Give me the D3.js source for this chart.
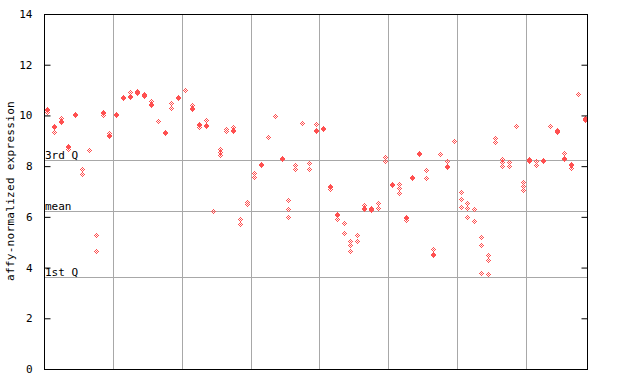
<!DOCTYPE html>
<html><head><meta charset="utf-8">
<script src="https://d3js.org/d3.v7.min.js"></script>
<style>body{margin:0;background:#fff}svg{display:block}text{font-family:"DejaVu Sans Mono",monospace;fill:#000}</style>
</head><body><svg id="c" width="640" height="384"></svg>
<script>
// values per sample position (replicates)
const sampleValues = [
 [10.25,10.21,10.13],[9.6,9.56,9.35],[9.88,9.79,9.75],[8.81,8.77,8.66],[10.05,10.01],
 [7.87,7.69],[8.62],[5.27,4.64],[10.15,10.11,10.0],[9.32,9.23,9.19],
 [10.05,10.01],[10.73,10.69],[10.91,10.76,10.72],[10.97,10.93,10.88],[10.85,10.81,10.76],
 [10.56,10.46,10.42],[9.77],[9.34,9.30],[10.48,10.28],[10.74,10.70],
 [10.99],[10.4,10.28,10.24],[9.65,9.61,9.53],[9.8,9.62,9.58],[6.24],
 [8.69,8.57,8.44],[9.48,9.37],[9.55,9.44,9.40],[5.9,5.72],[6.6,6.5],
 [7.72,7.56],[8.10,8.06],[9.14],[9.98],[8.31,8.27],
 [6.66,6.3,6.0],[8.06,7.9],[9.69],[8.11,7.9],[9.66,9.44,9.40],
 [9.51,9.47],[7.22,7.18,7.08],[6.10,6.06,5.9],[5.77,5.35],[5.06,4.88,4.64],
 [5.27,5.06],[6.47,6.36,6.32],[6.36,6.32,6.28],[6.56,6.34],[8.35,8.2],
 [7.28,7.24],[7.3,7.12,6.95],[6.0,5.96,5.88],[7.56,7.52],[8.52,8.48],
 [7.83,7.52],[4.72,4.54,4.5],[8.46],[8.19,8.02,7.98],[8.98],
 [7.0,6.69,6.38],[6.53,6.34,6.0],[6.3,5.82],[5.19,4.88,3.77],[4.48,4.28,3.73],
 [9.1,8.96],[8.3,8.15,8.0],[8.15,8.0],[9.6],[7.36,7.22,7.05],
 [8.29,8.25,8.2],[8.19,8.03],[8.26,8.22],[9.58],[9.44,9.40,9.33],
 [8.5,8.32,8.28],[8.10,8.06,7.91],[10.83],[9.88,9.84,9.8]
];
const yTicks = [0,2,4,6,8,10,12,14];
const refValues = [8.24, 6.23, 3.62];
const refLabels = ["3rd Q", "mean", "1st Q"];
const groupSize = 10;
const yTitle = "affy-normalized expression";

const svg = d3.select("#c");
const L = 44, R = 588, T = 14, B = 369;
const n = sampleValues.length;
const x = d3.scaleLinear().domain([0, n]).range([L, R]);
const y = d3.scaleLinear().domain([0, 14]).range([B, T]);
const red = "#ff5050";

const defs = svg.append("defs");
const pat = defs.append("pattern").attr("id","chk").attr("patternUnits","userSpaceOnUse")
  .attr("x",-0.5).attr("y",-0.5).attr("width",2).attr("height",2);
pat.append("rect").attr("x",0).attr("y",0).attr("width",1).attr("height",1).attr("fill",red);
pat.append("rect").attr("x",1).attr("y",1).attr("width",1).attr("height",1).attr("fill",red);

// vertical group grid lines
const gridX = d3.range(groupSize, n, groupSize);
svg.append("g").selectAll("line").data(gridX).join("line")
  .attr("x1", d => Math.round(x(d)) + 0.5).attr("x2", d => Math.round(x(d)) + 0.5)
  .attr("y1", T).attr("y2", B).attr("stroke", "#a8a8a8").attr("stroke-width", 1);

// reference lines
svg.append("g").selectAll("line").data(refValues).join("line")
  .attr("x1", L).attr("x2", R)
  .attr("y1", d => Math.round(y(d)) + 0.5).attr("y2", d => Math.round(y(d)) + 0.5)
  .attr("stroke", "#a8a8a8").attr("stroke-width", 1);
svg.append("g").selectAll("text").data(refValues).join("text")
  .attr("x", L + 1).attr("y", d => Math.round(y(d)) - 1)
  .attr("font-size", 11).text((d,i) => refLabels[i]);

// points
const pts = [];
sampleValues.forEach((vals, i) => vals.forEach(v => pts.push({i, v})));
svg.append("g").selectAll("path").data(pts).join("path")
  .attr("transform", d => `translate(${Math.round(x(d.i + 0.5)) + 0.5},${Math.round(y(d.v)) + 0.5})`)
  .attr("d", "M0,-3.5L3.5,0L0,3.5L-3.5,0Z")
  .attr("fill", "url(#chk)").attr("shape-rendering", "crispEdges");

// axes
const yAxisL = d3.axisLeft(y).tickValues(yTicks).tickSize(-6).tickPadding(12).tickFormat(d3.format("d"));
const gL = svg.append("g").attr("transform", `translate(${L + 0.5},0)`).call(yAxisL);
gL.select(".domain").remove();
gL.selectAll("text").attr("font-size", 11).attr("font-family", '"DejaVu Sans Mono",monospace');
const yAxisR = d3.axisRight(y).tickValues(yTicks).tickSize(-6).tickFormat("");
const gR = svg.append("g").attr("transform", `translate(${R - 0.5},0)`).call(yAxisR);
gR.select(".domain").remove();
svg.selectAll(".tick line").attr("stroke", "#000");

svg.append("rect").attr("x", L + 0.5).attr("y", T + 0.5).attr("width", R - L - 1).attr("height", B - T)
  .attr("fill", "none").attr("stroke", "#000").attr("stroke-width", 1);

svg.append("text").attr("transform", `translate(14,191) rotate(-90)`)
  .attr("text-anchor", "middle").attr("font-size", 11).attr("letter-spacing", 0.3).text(yTitle);
</script></body></html>
